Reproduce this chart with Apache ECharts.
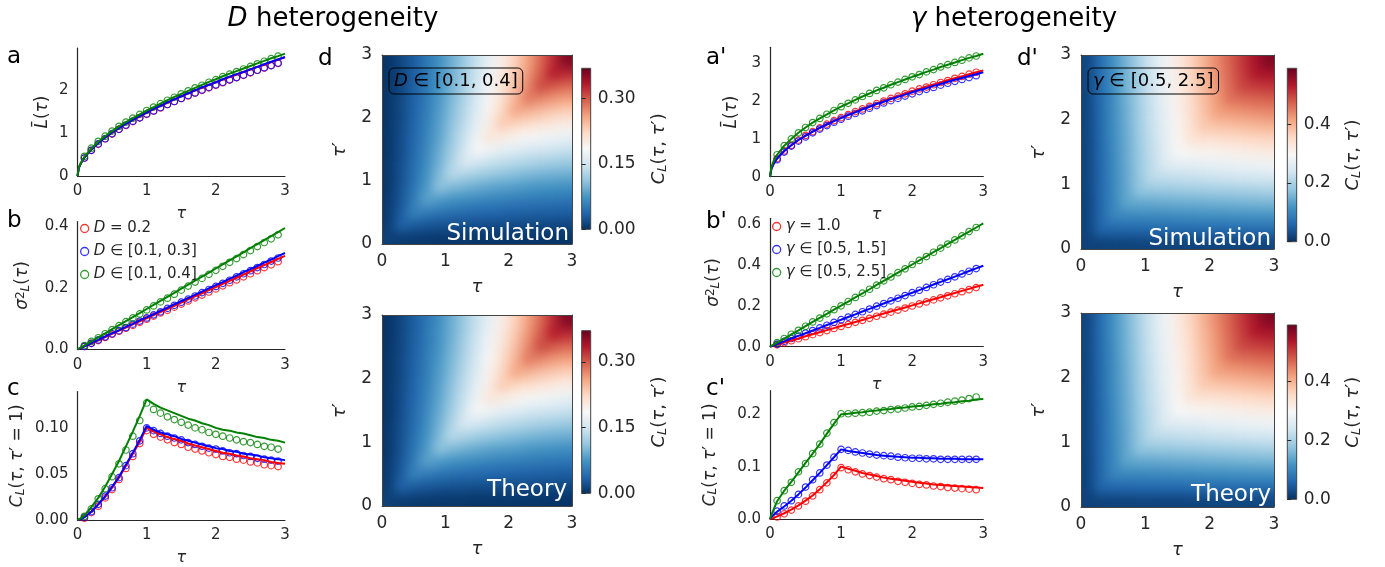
<!DOCTYPE html>
<html><head><meta charset="utf-8">
<script src="https://cdn.jsdelivr.net/npm/echarts@6/dist/echarts.min.js"></script>
<style>
html,body{margin:0;padding:0;background:#fff}
#wrap{position:relative;width:1385px;height:567px;overflow:hidden;background:#fff}
#c{position:absolute;left:0;top:0;width:1385px;height:567px;z-index:2}
.hm{position:absolute;z-index:1;filter:url(#smooth)}
</style>
</head><body>
<svg width="0" height="0" style="position:absolute">
  <filter id="smooth" x="0" y="0" width="1" height="1" color-interpolation-filters="sRGB">
    <feGaussianBlur stdDeviation="5.5"/>
    <feComponentTransfer><feFuncA type="linear" slope="80" intercept="0"/></feComponentTransfer>
  </filter>
</svg>
<div id="wrap"><div id="c"></div></div>
<script>
// ---------------- data ----------------
const TAU_LINE = [0,0.02,0.05,0.1,0.2,0.3,0.4,0.5,0.6,0.7,0.8,0.9,1.0,1.1,1.2,1.3,1.4,1.5,1.6,1.7,1.8,1.9,2.0,2.1,2.2,2.3,2.4,2.5,2.6,2.7,2.8,2.9,3.0];
const TAU_SIM = [0.1,0.2,0.3,0.4,0.5,0.6,0.7,0.8,0.9,1.0,1.1,1.2,1.3,1.4,1.5,1.6,1.7,1.8,1.9,2.0,2.1,2.2,2.3,2.4,2.5,2.6,2.7,2.8,2.9];
const X_TICKS = [0,1,2,3];

// panel a : mean L, D heterogeneity
const A_RED_LINE = [0,0.19,0.30,0.43,0.62,0.77,0.90,1.01,1.12,1.22,1.31,1.39,1.48,1.56,1.64,1.71,1.79,1.86,1.93,2.00,2.06,2.13,2.19,2.25,2.31,2.37,2.43,2.49,2.55,2.60,2.66,2.72,2.77];
const A_BLUE_LINE = [0,0.19,0.30,0.43,0.62,0.77,0.90,1.02,1.12,1.22,1.31,1.40,1.48,1.57,1.64,1.72,1.79,1.86,1.93,2.00,2.07,2.13,2.19,2.26,2.32,2.38,2.43,2.49,2.55,2.61,2.67,2.72,2.78];
const A_GREEN_LINE = [0,0.20,0.31,0.45,0.64,0.80,0.93,1.05,1.16,1.26,1.35,1.44,1.53,1.61,1.69,1.77,1.85,1.92,1.99,2.06,2.13,2.20,2.26,2.33,2.39,2.45,2.51,2.57,2.63,2.69,2.75,2.80,2.86];
const A_RED_SIM = [0.42,0.60,0.74,0.87,0.98,1.09,1.18,1.27,1.36,1.44,1.52,1.59,1.67,1.74,1.81,1.87,1.94,2.00,2.06,2.12,2.18,2.24,2.30,2.35,2.41,2.47,2.52,2.58,2.63];
const A_BLUE_SIM = [0.42,0.60,0.75,0.87,0.99,1.09,1.19,1.28,1.36,1.45,1.52,1.60,1.67,1.74,1.81,1.88,1.94,2.01,2.07,2.13,2.19,2.25,2.30,2.36,2.42,2.47,2.53,2.58,2.64];
const A_GREEN_SIM = [0.46,0.65,0.81,0.93,1.05,1.16,1.26,1.35,1.44,1.53,1.61,1.69,1.77,1.84,1.92,1.99,2.06,2.12,2.19,2.25,2.32,2.38,2.44,2.50,2.56,2.62,2.68,2.74,2.80];

// panel b : variance, D heterogeneity
const B_RED_LINE = [0,0.002,0.005,0.010,0.020,0.030,0.040,0.051,0.061,0.071,0.081,0.091,0.101,0.111,0.121,0.131,0.141,0.152,0.162,0.172,0.182,0.192,0.202,0.212,0.222,0.232,0.242,0.253,0.263,0.273,0.283,0.293,0.303];
const B_BLUE_LINE = [0,0.002,0.005,0.010,0.021,0.031,0.042,0.052,0.062,0.073,0.083,0.094,0.104,0.114,0.125,0.135,0.146,0.156,0.166,0.177,0.187,0.198,0.208,0.218,0.229,0.239,0.250,0.260,0.270,0.281,0.291,0.302,0.312];
const B_GREEN_LINE = [0,0.003,0.007,0.013,0.026,0.039,0.052,0.066,0.079,0.092,0.105,0.118,0.131,0.144,0.157,0.170,0.183,0.197,0.210,0.223,0.236,0.249,0.262,0.275,0.288,0.301,0.314,0.328,0.341,0.354,0.367,0.380,0.393];
const B_RED_SIM = [0.010,0.020,0.029,0.039,0.049,0.059,0.069,0.078,0.088,0.098,0.108,0.118,0.127,0.137,0.147,0.157,0.167,0.176,0.186,0.196,0.206,0.216,0.225,0.235,0.245,0.255,0.265,0.274,0.284];
const B_BLUE_SIM = [0.010,0.020,0.031,0.041,0.051,0.061,0.071,0.082,0.092,0.102,0.112,0.122,0.133,0.143,0.153,0.163,0.173,0.184,0.194,0.204,0.214,0.224,0.235,0.245,0.255,0.265,0.275,0.286,0.296];
const B_GREEN_SIM = [0.013,0.026,0.038,0.051,0.064,0.077,0.090,0.102,0.115,0.128,0.141,0.154,0.166,0.179,0.192,0.205,0.218,0.230,0.243,0.256,0.269,0.282,0.294,0.307,0.320,0.333,0.346,0.358,0.371];

// panel c : C(tau, tau'=1), D heterogeneity
const C_RED_LINE = [0,0.0003,0.001,0.003,0.009,0.017,0.025,0.035,0.046,0.059,0.072,0.085,0.100,0.096,0.093,0.090,0.088,0.086,0.083,0.081,0.079,0.077,0.075,0.073,0.072,0.070,0.069,0.067,0.066,0.065,0.063,0.062,0.061];
const C_BLUE_LINE = [0,0.0003,0.001,0.003,0.009,0.017,0.026,0.036,0.047,0.060,0.073,0.087,0.102,0.098,0.095,0.093,0.091,0.088,0.086,0.084,0.082,0.080,0.078,0.077,0.075,0.074,0.072,0.071,0.070,0.068,0.067,0.066,0.065];
const C_GREEN_LINE = [0,0.0005,0.002,0.005,0.014,0.024,0.036,0.050,0.064,0.080,0.096,0.113,0.131,0.126,0.122,0.119,0.116,0.113,0.110,0.108,0.105,0.103,0.100,0.098,0.097,0.095,0.094,0.092,0.090,0.089,0.087,0.086,0.084];
const C_RED_SIM = [0.002,0.008,0.015,0.024,0.033,0.044,0.056,0.069,0.083,0.097,0.093,0.090,0.087,0.084,0.082,0.079,0.077,0.075,0.073,0.071,0.069,0.068,0.066,0.065,0.063,0.062,0.060,0.059,0.058];
const C_BLUE_SIM = [0.003,0.009,0.017,0.026,0.035,0.046,0.059,0.072,0.086,0.100,0.097,0.094,0.091,0.089,0.087,0.084,0.082,0.080,0.078,0.077,0.075,0.073,0.072,0.070,0.069,0.067,0.066,0.065,0.064];
const C_GREEN_SIM = [0.004,0.012,0.023,0.034,0.047,0.061,0.076,0.091,0.108,0.127,0.120,0.116,0.112,0.109,0.106,0.103,0.100,0.098,0.095,0.093,0.091,0.089,0.087,0.085,0.084,0.082,0.080,0.079,0.077];

// panel a' : mean L, gamma heterogeneity
const AP_RED_LINE = [0,0.21,0.33,0.48,0.68,0.83,0.97,1.09,1.19,1.29,1.39,1.48,1.56,1.64,1.72,1.79,1.86,1.93,2.00,2.07,2.13,2.20,2.26,2.32,2.38,2.43,2.49,2.55,2.60,2.65,2.71,2.76,2.81];
const AP_BLUE_LINE = [0,0.21,0.34,0.48,0.68,0.83,0.97,1.08,1.19,1.29,1.38,1.47,1.55,1.63,1.70,1.78,1.85,1.92,1.98,2.05,2.11,2.17,2.23,2.29,2.34,2.40,2.45,2.51,2.56,2.61,2.66,2.71,2.76];
const AP_GREEN_LINE = [0,0.26,0.41,0.58,0.82,1.00,1.16,1.30,1.43,1.54,1.65,1.75,1.85,1.94,2.03,2.12,2.20,2.28,2.35,2.43,2.50,2.57,2.64,2.70,2.77,2.83,2.90,2.96,3.02,3.08,3.14,3.19,3.25];
const AP_RED_SIM = [0.48,0.68,0.83,0.97,1.09,1.19,1.29,1.39,1.48,1.56,1.64,1.72,1.79,1.86,1.93,2.00,2.07,2.13,2.19,2.26,2.32,2.37,2.43,2.49,2.54,2.60,2.65,2.71,2.76];
const AP_BLUE_SIM = [0.45,0.65,0.81,0.94,1.05,1.16,1.26,1.35,1.44,1.52,1.60,1.67,1.74,1.81,1.88,1.95,2.01,2.07,2.13,2.19,2.25,2.31,2.36,2.42,2.47,2.52,2.57,2.62,2.67];
const AP_GREEN_SIM = [0.58,0.82,1.00,1.16,1.30,1.43,1.54,1.65,1.75,1.85,1.94,2.03,2.12,2.20,2.28,2.35,2.43,2.50,2.57,2.64,2.70,2.77,2.83,2.90,2.96,3.02,3.08,3.14,3.19];

// panel b' : variance, gamma heterogeneity
const BP_RED_LINE = [0,0.002,0.005,0.010,0.020,0.030,0.040,0.051,0.061,0.071,0.081,0.091,0.101,0.111,0.121,0.131,0.141,0.152,0.162,0.172,0.182,0.192,0.202,0.212,0.222,0.232,0.242,0.253,0.263,0.273,0.283,0.293,0.303];
const BP_BLUE_LINE = [0,0.003,0.007,0.013,0.026,0.040,0.053,0.066,0.079,0.092,0.106,0.119,0.132,0.145,0.158,0.172,0.185,0.198,0.211,0.224,0.238,0.251,0.264,0.277,0.290,0.304,0.317,0.330,0.343,0.356,0.370,0.383,0.396];
const BP_GREEN_LINE = [0,0.004,0.010,0.020,0.040,0.060,0.080,0.101,0.121,0.141,0.161,0.181,0.201,0.221,0.241,0.261,0.281,0.302,0.322,0.342,0.362,0.382,0.402,0.422,0.442,0.462,0.482,0.503,0.523,0.543,0.563,0.583,0.603];
const BP_RED_SIM = [0.009,0.019,0.029,0.039,0.049,0.059,0.069,0.079,0.089,0.099,0.109,0.119,0.129,0.139,0.149,0.159,0.169,0.179,0.189,0.199,0.209,0.219,0.229,0.239,0.249,0.259,0.269,0.279,0.289];
const BP_BLUE_SIM = [0.013,0.026,0.040,0.052,0.066,0.079,0.092,0.105,0.119,0.132,0.145,0.158,0.171,0.184,0.198,0.211,0.224,0.237,0.250,0.264,0.276,0.290,0.303,0.316,0.329,0.342,0.356,0.369,0.382];
const BP_GREEN_SIM = [0.020,0.040,0.061,0.080,0.100,0.121,0.140,0.161,0.181,0.200,0.221,0.241,0.262,0.281,0.301,0.322,0.341,0.362,0.381,0.402,0.422,0.441,0.462,0.482,0.502,0.522,0.542,0.563,0.583];

// panel c' : C(tau, tau'=1), gamma heterogeneity
const CP_RED_LINE = [0,0.001,0.002,0.005,0.011,0.018,0.026,0.035,0.045,0.057,0.070,0.084,0.100,0.096,0.092,0.088,0.085,0.082,0.079,0.077,0.075,0.073,0.071,0.069,0.068,0.066,0.065,0.064,0.063,0.062,0.061,0.060,0.059];
const CP_BLUE_LINE = [0,0.004,0.008,0.014,0.024,0.035,0.047,0.060,0.074,0.088,0.103,0.118,0.133,0.130,0.128,0.126,0.124,0.122,0.121,0.120,0.119,0.118,0.117,0.117,0.116,0.116,0.115,0.115,0.115,0.114,0.114,0.114,0.114];
const CP_GREEN_LINE = [0,0.008,0.018,0.034,0.054,0.071,0.089,0.107,0.125,0.143,0.163,0.182,0.200,0.201,0.203,0.204,0.206,0.207,0.209,0.210,0.212,0.213,0.215,0.216,0.217,0.219,0.220,0.222,0.223,0.225,0.226,0.228,0.229];
const CP_RED_SIM = [0.004,0.010,0.017,0.025,0.034,0.044,0.056,0.069,0.083,0.098,0.094,0.090,0.086,0.083,0.080,0.077,0.075,0.072,0.070,0.068,0.066,0.065,0.063,0.062,0.060,0.059,0.058,0.057,0.056];
const CP_BLUE_SIM = [0.015,0.025,0.035,0.047,0.061,0.075,0.088,0.103,0.118,0.133,0.131,0.128,0.126,0.124,0.122,0.121,0.120,0.118,0.117,0.116,0.116,0.115,0.115,0.114,0.114,0.114,0.114,0.114,0.114];
const CP_GREEN_SIM = [0.035,0.054,0.070,0.090,0.106,0.125,0.143,0.164,0.184,0.201,0.201,0.202,0.203,0.204,0.206,0.207,0.209,0.210,0.212,0.214,0.215,0.217,0.219,0.221,0.223,0.225,0.227,0.230,0.233];

// heatmaps: rows = tau' (bottom to top), columns = tau (left to right)
const HM_CATS = ['0.1','0.3','0.5','0.7','0.9','1.1','1.3','1.5','1.7','1.9','2.1','2.3','2.5','2.7','2.9'];
const HM_D = [
 [0.012,0.008,0.007,0.006,0.005,0.005,0.005,0.004,0.004,0.004,0.004,0.004,0.004,0.003,0.003],
 [0.008,0.037,0.030,0.027,0.024,0.022,0.021,0.020,0.019,0.018,0.017,0.017,0.016,0.016,0.015],
 [0.007,0.030,0.062,0.054,0.049,0.045,0.042,0.040,0.038,0.037,0.035,0.034,0.033,0.032,0.031],
 [0.006,0.027,0.054,0.086,0.078,0.072,0.068,0.064,0.061,0.058,0.056,0.054,0.052,0.051,0.049],
 [0.005,0.024,0.049,0.078,0.111,0.102,0.096,0.091,0.086,0.083,0.080,0.077,0.074,0.072,0.070],
 [0.005,0.022,0.045,0.072,0.102,0.135,0.127,0.120,0.114,0.109,0.105,0.101,0.098,0.095,0.093],
 [0.005,0.021,0.042,0.068,0.096,0.127,0.160,0.151,0.144,0.138,0.133,0.128,0.124,0.120,0.117],
 [0.004,0.020,0.040,0.064,0.091,0.120,0.151,0.185,0.176,0.168,0.162,0.156,0.151,0.147,0.143],
 [0.004,0.019,0.038,0.061,0.086,0.114,0.144,0.176,0.209,0.200,0.193,0.186,0.180,0.175,0.170],
 [0.004,0.018,0.037,0.058,0.083,0.109,0.138,0.168,0.200,0.234,0.225,0.217,0.210,0.204,0.198],
 [0.004,0.017,0.035,0.056,0.080,0.105,0.133,0.162,0.193,0.225,0.258,0.249,0.241,0.234,0.228],
 [0.004,0.017,0.034,0.054,0.077,0.101,0.128,0.156,0.186,0.217,0.249,0.283,0.274,0.266,0.259],
 [0.004,0.016,0.033,0.052,0.074,0.098,0.124,0.151,0.180,0.210,0.241,0.274,0.308,0.298,0.290],
 [0.003,0.016,0.032,0.051,0.072,0.095,0.120,0.147,0.175,0.204,0.234,0.266,0.298,0.332,0.323],
 [0.003,0.015,0.031,0.049,0.070,0.093,0.117,0.143,0.170,0.198,0.228,0.259,0.290,0.323,0.357]
];
const HM_G = [
 [0.020,0.020,0.020,0.020,0.021,0.021,0.021,0.021,0.022,0.022,0.022,0.022,0.023,0.023,0.023],
 [0.020,0.059,0.060,0.061,0.061,0.062,0.063,0.063,0.064,0.065,0.065,0.066,0.067,0.068,0.068],
 [0.020,0.060,0.099,0.100,0.101,0.102,0.103,0.104,0.106,0.107,0.108,0.109,0.110,0.112,0.113],
 [0.020,0.061,0.100,0.138,0.140,0.141,0.143,0.145,0.146,0.148,0.149,0.151,0.153,0.154,0.156],
 [0.021,0.061,0.101,0.140,0.177,0.179,0.182,0.184,0.186,0.188,0.190,0.192,0.194,0.196,0.199],
 [0.021,0.062,0.102,0.141,0.179,0.217,0.219,0.222,0.225,0.227,0.230,0.232,0.235,0.238,0.240],
 [0.021,0.063,0.103,0.143,0.182,0.219,0.256,0.259,0.262,0.265,0.268,0.271,0.275,0.278,0.281],
 [0.021,0.063,0.104,0.145,0.184,0.222,0.259,0.296,0.299,0.303,0.306,0.310,0.313,0.317,0.320],
 [0.022,0.064,0.106,0.146,0.186,0.225,0.262,0.299,0.335,0.339,0.343,0.347,0.351,0.355,0.359],
 [0.022,0.065,0.107,0.148,0.188,0.227,0.265,0.303,0.339,0.374,0.379,0.383,0.388,0.392,0.397],
 [0.022,0.065,0.108,0.149,0.190,0.230,0.268,0.306,0.343,0.379,0.414,0.419,0.424,0.429,0.434],
 [0.022,0.066,0.109,0.151,0.192,0.232,0.271,0.310,0.347,0.383,0.419,0.453,0.459,0.464,0.469],
 [0.023,0.067,0.110,0.153,0.194,0.235,0.275,0.313,0.351,0.388,0.424,0.459,0.493,0.498,0.504],
 [0.023,0.068,0.112,0.154,0.196,0.238,0.278,0.317,0.355,0.392,0.429,0.464,0.498,0.532,0.538],
 [0.023,0.068,0.113,0.156,0.199,0.240,0.281,0.320,0.359,0.397,0.434,0.469,0.504,0.538,0.571]
];
const CB_D_TICKS = [0, 0.15, 0.30];
const CB_G_TICKS = [0, 0.2, 0.4];
const RDBU_R = ['#053061','#2166ac','#4393c3','#92c5de','#d1e5f0','#f7f7f7','#fddbc7','#f4a582','#d6604d','#b2182b','#67001f'];

// ---------------- build ----------------
const FONT = 'DejaVu Sans';
const AX = '#262626';
const RED = '#ff0000', BLUE = '#0000ff', GREEN = '#008000';
function rich(fs){
  return {
    n:{fontSize:fs,fontFamily:FONT,color:AX},
    it:{fontStyle:'italic',fontSize:fs,fontFamily:FONT,color:AX},
    sub:{fontStyle:'italic',fontSize:Math.round(fs*0.7),fontFamily:FONT,color:AX,verticalAlign:'bottom'},
    sup:{fontSize:Math.round(fs*0.7),fontFamily:FONT,color:AX,verticalAlign:'top'}
  };
}
const series=[], grids=[], xAxes=[], yAxes=[];
function addLinePanel(p){
  const gi=grids.length;
  grids.push({left:p.left,top:p.top,width:p.width,height:p.height,containLabel:false,outerBoundsMode:'none'});
  const xi=xAxes.length, yi=yAxes.length;
  xAxes.push({gridIndex:gi,type:'value',min:0,max:3,position:'bottom',
    axisLine:{show:true,onZero:false,lineStyle:{color:AX,width:1.2}},axisTick:{show:false},splitLine:{show:false},
    axisLabel:{customValues:X_TICKS,formatter:v=>String(v),fontSize:15,color:AX,fontFamily:FONT,margin:8},
    name:p.xname||'',nameLocation:'middle',nameGap:30,nameTextStyle:{fontSize:16,fontStyle:'italic',fontFamily:FONT,color:AX}});
  yAxes.push({gridIndex:gi,type:'value',min:0,max:p.ymax,position:'left',
    axisLine:{show:true,onZero:false,lineStyle:{color:AX,width:1.2}},axisTick:{show:false},splitLine:{show:false},
    axisLabel:{customValues:p.yticks,formatter:v=>v.toFixed(p.ydec),fontSize:15,color:AX,fontFamily:FONT,margin:9},
    name:p.yname,nameLocation:'middle',nameRotate:90,nameGap:p.ygap,nameTextStyle:{fontSize:17,fontFamily:FONT,color:AX,rich:rich(17)}});
  p.sets.forEach(s=>{
    series.push({type:'scatter',name:s.name,xAxisIndex:xi,yAxisIndex:yi,silent:true,
      data:TAU_SIM.map((t,i)=>[t,s.sim[i]]),symbol:'circle',symbolSize:6.5,
      itemStyle:{color:'rgba(0,0,0,0)',borderColor:s.color,borderWidth:1.2}});
    series.push({type:'line',name:s.name+' (theory)',xAxisIndex:xi,yAxisIndex:yi,silent:true,
      data:TAU_LINE.map((t,i)=>[t,s.line[i]]),showSymbol:false,symbol:'none',
      lineStyle:{color:s.color,width:2}});
  });
}
const heatBoxes=[];
function addHeatPanel(p){
  const gi=grids.length;
  grids.push({left:p.left,top:p.top,width:p.width,height:p.height,containLabel:false,outerBoundsMode:'none'});
  const border={show:true,onZero:false,lineStyle:{color:'#444',width:1}};
  xAxes.push({gridIndex:gi,type:'category',data:HM_CATS,position:'top',axisLine:border,axisTick:{show:false},axisLabel:{show:false},splitLine:{show:false},z:5});
  xAxes.push({gridIndex:gi,type:'value',min:0,max:3,position:'bottom',axisLine:border,axisTick:{show:false},splitLine:{show:false},z:5,
    axisLabel:{customValues:X_TICKS,formatter:v=>String(v),fontSize:17,color:AX,fontFamily:FONT,margin:9},
    name:'τ',nameLocation:'middle',nameGap:34,nameTextStyle:{fontSize:18,fontStyle:'italic',fontFamily:FONT,color:AX}});
  yAxes.push({gridIndex:gi,type:'category',data:HM_CATS,position:'right',axisLine:border,axisTick:{show:false},axisLabel:{show:false},splitLine:{show:false},z:5});
  yAxes.push({gridIndex:gi,type:'value',min:0,max:3,position:'left',axisLine:border,axisTick:{show:false},splitLine:{show:false},z:5,
    axisLabel:{customValues:X_TICKS,formatter:v=>String(v),fontSize:17,color:AX,fontFamily:FONT,margin:10},
    name:'{it|τ}{n|′}',nameLocation:'middle',nameRotate:90,nameGap:33,nameTextStyle:{fontSize:18,fontFamily:FONT,color:AX,rich:rich(18)}});
  heatBoxes.push(p);
}
function addColorbar(p){
  const gi=grids.length;
  grids.push({left:p.left,top:p.top,width:p.width,height:p.height,show:true,containLabel:false,outerBoundsMode:'none',
    backgroundColor:{type:'linear',x:0,y:1,x2:0,y2:0,colorStops:RDBU_R.map((c,i)=>({offset:i/(RDBU_R.length-1),color:c}))},
    borderColor:'#444',borderWidth:1});
  xAxes.push({gridIndex:gi,type:'value',show:false,min:0,max:1});
  yAxes.push({gridIndex:gi,type:'value',position:'right',min:0,max:p.vmax,
    axisLine:{show:false},splitLine:{show:false},
    axisTick:{show:true,customValues:p.ticks,length:4,lineStyle:{color:AX,width:1}},
    axisLabel:{customValues:p.ticks,formatter:v=>v.toFixed(p.dec),fontSize:17,color:AX,fontFamily:FONT,margin:7},
    name:'{it|C}{sub|L}{n|(}{it|τ}{n|, }{it|τ}{n|′)}',nameLocation:'middle',nameRotate:90,nameGap:p.gap,
    nameTextStyle:{fontSize:18,fontFamily:FONT,color:AX,rich:rich(18)}});
}

// line panels
addLinePanel({left:77.5,top:48,width:207.5,height:128,ymax:2.99,yticks:[0,1,2],ydec:0,ygap:26,
  yname:'{it|L̄}{n|(}{it|τ}{n|)}',xname:'τ',
  sets:[{name:'D = 0.2',color:RED,line:A_RED_LINE,sim:A_RED_SIM},{name:'D ∈ [0.1, 0.3]',color:BLUE,line:A_BLUE_LINE,sim:A_BLUE_SIM},{name:'D ∈ [0.1, 0.4]',color:GREEN,line:A_GREEN_LINE,sim:A_GREEN_SIM}]});
addLinePanel({left:77.5,top:221.5,width:207.5,height:128,ymax:0.414,yticks:[0,0.2,0.4],ydec:1,ygap:46,
  yname:'{it|σ}{sup|2}{sub|L}{n|(}{it|τ}{n|)}',xname:'τ',
  sets:[{name:'D = 0.2',color:RED,line:B_RED_LINE,sim:B_RED_SIM},{name:'D ∈ [0.1, 0.3]',color:BLUE,line:B_BLUE_LINE,sim:B_BLUE_SIM},{name:'D ∈ [0.1, 0.4]',color:GREEN,line:B_GREEN_LINE,sim:B_GREEN_SIM}]});
addLinePanel({left:77.5,top:391.5,width:207.5,height:128.5,ymax:0.1395,yticks:[0,0.05,0.10],ydec:2,ygap:51,
  yname:'{it|C}{sub|L}{n|(}{it|τ}{n|, }{it|τ}{n|′ = 1)}',xname:'τ',
  sets:[{name:'D = 0.2',color:RED,line:C_RED_LINE,sim:C_RED_SIM},{name:'D ∈ [0.1, 0.3]',color:BLUE,line:C_BLUE_LINE,sim:C_BLUE_SIM},{name:'D ∈ [0.1, 0.4]',color:GREEN,line:C_GREEN_LINE,sim:C_GREEN_SIM}]});
addLinePanel({left:770,top:47.3,width:213.3,height:129.4,ymax:3.42,yticks:[0,1,2,3],ydec:0,ygap:30,
  yname:'{it|L̄}{n|(}{it|τ}{n|)}',xname:'τ',
  sets:[{name:'γ = 1.0',color:RED,line:AP_RED_LINE,sim:AP_RED_SIM},{name:'γ ∈ [0.5, 1.5]',color:BLUE,line:AP_BLUE_LINE,sim:AP_BLUE_SIM},{name:'γ ∈ [0.5, 2.5]',color:GREEN,line:AP_GREEN_LINE,sim:AP_GREEN_SIM}]});
addLinePanel({left:770,top:218.3,width:213.3,height:128.4,ymax:0.628,yticks:[0,0.2,0.4,0.6],ydec:1,ygap:48,
  yname:'{it|σ}{sup|2}{sub|L}{n|(}{it|τ}{n|)}',xname:'τ',
  sets:[{name:'γ = 1.0',color:RED,line:BP_RED_LINE,sim:BP_RED_SIM},{name:'γ ∈ [0.5, 1.5]',color:BLUE,line:BP_BLUE_LINE,sim:BP_BLUE_SIM},{name:'γ ∈ [0.5, 2.5]',color:GREEN,line:BP_GREEN_LINE,sim:BP_GREEN_SIM}]});
addLinePanel({left:770,top:390.7,width:213.3,height:128.3,ymax:0.245,yticks:[0,0.1,0.2],ydec:1,ygap:51,
  yname:'{it|C}{sub|L}{n|(}{it|τ}{n|, }{it|τ}{n|′ = 1)}',xname:'',
  sets:[{name:'γ = 1.0',color:RED,line:CP_RED_LINE,sim:CP_RED_SIM},{name:'γ ∈ [0.5, 1.5]',color:BLUE,line:CP_BLUE_LINE,sim:CP_BLUE_SIM},{name:'γ ∈ [0.5, 2.5]',color:GREEN,line:CP_GREEN_LINE,sim:CP_GREEN_SIM}]});

// heatmap frames (axes) and colorbars
addHeatPanel({left:382,top:55,width:190,height:189,matrix:HM_D,vmax:0.37});
addHeatPanel({left:382,top:315,width:190,height:191,matrix:HM_D,vmax:0.37});
addHeatPanel({left:1081,top:55,width:193,height:194,matrix:HM_G,vmax:0.59});
addHeatPanel({left:1081,top:313,width:193,height:194,matrix:HM_G,vmax:0.59});
addColorbar({left:581.7,top:68.3,width:9,height:161,vmax:0.369,ticks:CB_D_TICKS,dec:2,gap:60});
addColorbar({left:581.7,top:330.7,width:9,height:162.6,vmax:0.371,ticks:CB_D_TICKS,dec:2,gap:60});
addColorbar({left:1287.3,top:68.3,width:9.4,height:173.4,vmax:0.59,ticks:CB_G_TICKS,dec:1,gap:48});
addColorbar({left:1287.3,top:325,width:9.4,height:174.3,vmax:0.593,ticks:CB_G_TICKS,dec:1,gap:48});

function legendFor(names,left,top){
  const cols=[RED,BLUE,GREEN];
  return {orient:'vertical',left:left,top:top,itemWidth:8,itemHeight:8,itemGap:6,selectedMode:false,
    data:names.map((n,i)=>({name:n,icon:'circle',itemStyle:{color:'rgba(0,0,0,0)',borderColor:cols[i],borderWidth:1.3}})),
    formatter:n=>'{i|'+n[0]+'}{r|'+n.slice(1)+'}',
    textStyle:{fontSize:15,lineHeight:17,fontFamily:FONT,color:AX,
      rich:{i:{fontStyle:'italic',fontSize:15,lineHeight:17,fontFamily:FONT,color:AX},r:{fontSize:15,lineHeight:17,fontFamily:FONT,color:AX}}}};
}

function txt(x,y,text,o){
  return {type:'text',x:x,y:y,silent:true,z:100,style:Object.assign({text:text,fill:'#000',fontFamily:FONT,fontSize:23,verticalAlign:'middle'},o||{})};
}
const TITLE_RICH={i:{fontStyle:'italic',fontSize:26,fontFamily:FONT,fill:'#000'},r:{fontSize:26,fontFamily:FONT,fill:'#000'}};
const BOX_RICH={i:{fontStyle:'italic',fontSize:18,fontFamily:FONT},r:{fontSize:18,fontFamily:FONT}};
const graphics=[
  txt(333,19,'{i|D}{r| heterogeneity}',{fontSize:26,align:'center',rich:TITLE_RICH}),
  txt(1014,19,'{i|γ}{r| heterogeneity}',{fontSize:26,align:'center',rich:TITLE_RICH}),
  txt(7,57,'a'),txt(7,221,'b'),txt(7,389,'c'),txt(318,59,'d'),
  txt(706,58,"a'"),txt(706,222,"b'"),txt(706,389,"c'"),txt(1017,59,"d'"),
  txt(569,246,'Simulation',{fill:'#fff',fontSize:23,align:'right',verticalAlign:'bottom'}),
  txt(567,502,'Theory',{fill:'#fff',fontSize:23,align:'right',verticalAlign:'bottom'}),
  txt(1271,251,'Simulation',{fill:'#fff',fontSize:23,align:'right',verticalAlign:'bottom'}),
  txt(1271,507,'Theory',{fill:'#fff',fontSize:23,align:'right',verticalAlign:'bottom'}),
  txt(389,68,'{i|D}{r| ∈ [0.1, 0.4]}',{fontSize:18,verticalAlign:'top',padding:[4,5,4,5],borderColor:'#000',borderWidth:1,borderRadius:5,rich:BOX_RICH}),
  txt(1088,68,'{i|γ}{r| ∈ [0.5, 2.5]}',{fontSize:18,verticalAlign:'top',padding:[4,5,4,5],borderColor:'#000',borderWidth:1,borderRadius:5,rich:BOX_RICH})
];

// heatmap layers: one small chart per map, placed exactly under its frame
const wrap=document.getElementById('wrap');
heatBoxes.forEach(p=>{
  const d=document.createElement('div');
  d.className='hm';
  d.style.left=p.left+'px'; d.style.top=p.top+'px'; d.style.width=p.width+'px'; d.style.height=p.height+'px';
  wrap.appendChild(d);
  const data=[];
  p.matrix.forEach((row,y)=>row.forEach((v,x)=>data.push([x,y,v])));
  echarts.init(d,null,{renderer:'canvas'}).setOption({
    animation:false,
    grid:{left:0,top:0,right:0,bottom:0,containLabel:false,outerBoundsMode:'none'},
    xAxis:{type:'category',data:HM_CATS,show:false},
    yAxis:{type:'category',data:HM_CATS,show:false},
    visualMap:{type:'continuous',show:false,min:0,max:p.vmax,dimension:2,inRange:{color:RDBU_R}},
    series:[{type:'heatmap',data:data,silent:true,progressive:0,itemStyle:{borderWidth:0}}]
  });
});

const chart=echarts.init(document.getElementById('c'),null,{renderer:'canvas'});
chart.setOption({
  animation:false,
  backgroundColor:'transparent',
  grid:grids, xAxis:xAxes, yAxis:yAxes, series:series,
  legend:[legendFor(['D = 0.2','D ∈ [0.1, 0.3]','D ∈ [0.1, 0.4]'],75,215),
          legendFor(['γ = 1.0','γ ∈ [0.5, 1.5]','γ ∈ [0.5, 2.5]'],767,213)],
  graphic:graphics
});
</script></body></html>
